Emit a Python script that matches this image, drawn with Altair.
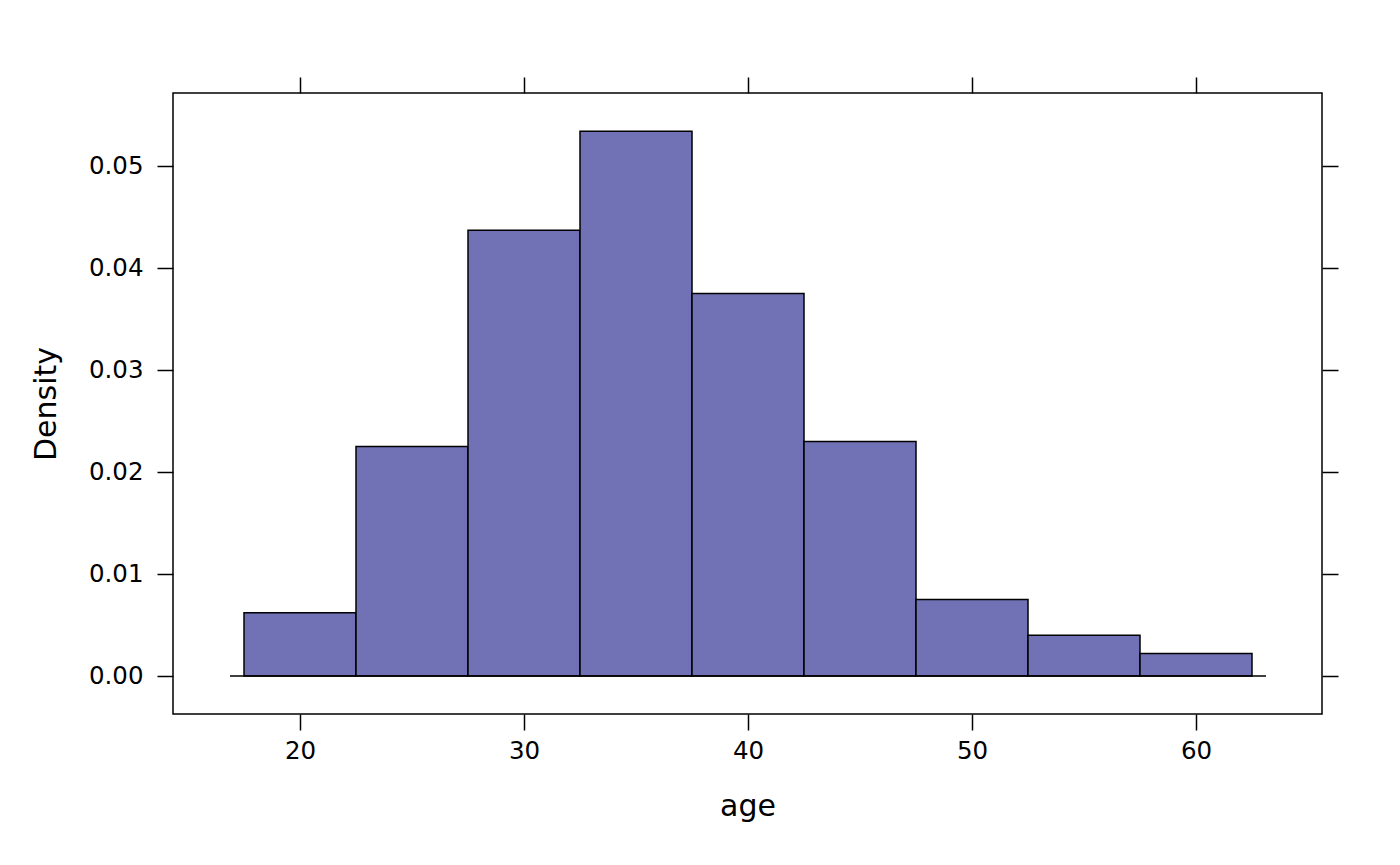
import altair as alt
import pandas as pd

# Histogram data (bin edges and density)
bin_start = [17.5, 22.5, 27.5, 32.5, 37.5, 42.5, 47.5, 52.5, 57.5]
bin_end = [22.5, 27.5, 32.5, 37.5, 42.5, 47.5, 52.5, 57.5, 62.5]
density = [0.0062, 0.0225, 0.0437, 0.0534, 0.0375, 0.0230, 0.0075, 0.0040, 0.0022]

x_ticks = [20, 30, 40, 50, 60]
y_ticks = [0.00, 0.01, 0.02, 0.03, 0.04, 0.05]
x_domain = [14.33, 65.625]
y_domain = [-0.003725, 0.057157]

baseline_from = [16.875]
baseline_to = [63.125]
baseline_y = [0.0]

FONT = "DejaVu Sans"
FILL = "#7171B5"
LW = 1.5

bars_df = pd.DataFrame({"start": bin_start, "end": bin_end, "density": density,
                        "zero": [0.0] * len(density)})
base_df = pd.DataFrame({"x1": baseline_from, "x2": baseline_to, "y": baseline_y})

xscale = alt.Scale(domain=x_domain, nice=False, zero=False)
yscale = alt.Scale(domain=y_domain, nice=False, zero=False)

common_axis = dict(domain=False, grid=False, tickColor="black", tickSize=16,
                   tickWidth=LW, labelFont=FONT, labelFontSize=24.5,
                   labelColor="black", titleFont=FONT, titleFontSize=30,
                   titleColor="black", titleFontWeight="normal")

bars = alt.Chart(bars_df).mark_bar(fill=FILL, stroke="black", strokeWidth=LW,
                                   opacity=1).encode(
    x=alt.X("start:Q", scale=xscale,
            axis=alt.Axis(orient="bottom", values=x_ticks, format="d", title="age",
                          labelPadding=9, titlePadding=29, **common_axis)),
    x2="end:Q",
    y=alt.Y("density:Q", scale=yscale,
            axis=alt.Axis(orient="left", values=y_ticks, format=".2f", title="Density",
                          labelPadding=14, titlePadding=27, **common_axis)),
    y2="zero:Q",
)

baseline = alt.Chart(base_df).mark_rule(color="black", strokeWidth=LW).encode(
    x=alt.X("x1:Q", scale=xscale,
            axis=alt.Axis(orient="top", values=x_ticks, labels=False, title=None,
                          **common_axis)),
    x2="x2:Q",
    y=alt.Y("y:Q", scale=yscale,
            axis=alt.Axis(orient="right", values=y_ticks, labels=False, title=None,
                          **common_axis)),
)

chart = alt.layer(bars, baseline).resolve_axis(
    x="independent", y="independent"
).resolve_scale(x="shared", y="shared").properties(
    width=1149, height=621,
    autosize=alt.AutoSizeParams(type="none"),
    padding={"left": 165, "top": 85, "right": 60, "bottom": 135},
    background="white",
).configure_view(stroke="black", strokeWidth=LW)

chart.save("out.html", embed_options={"renderer": "svg", "actions": False})
